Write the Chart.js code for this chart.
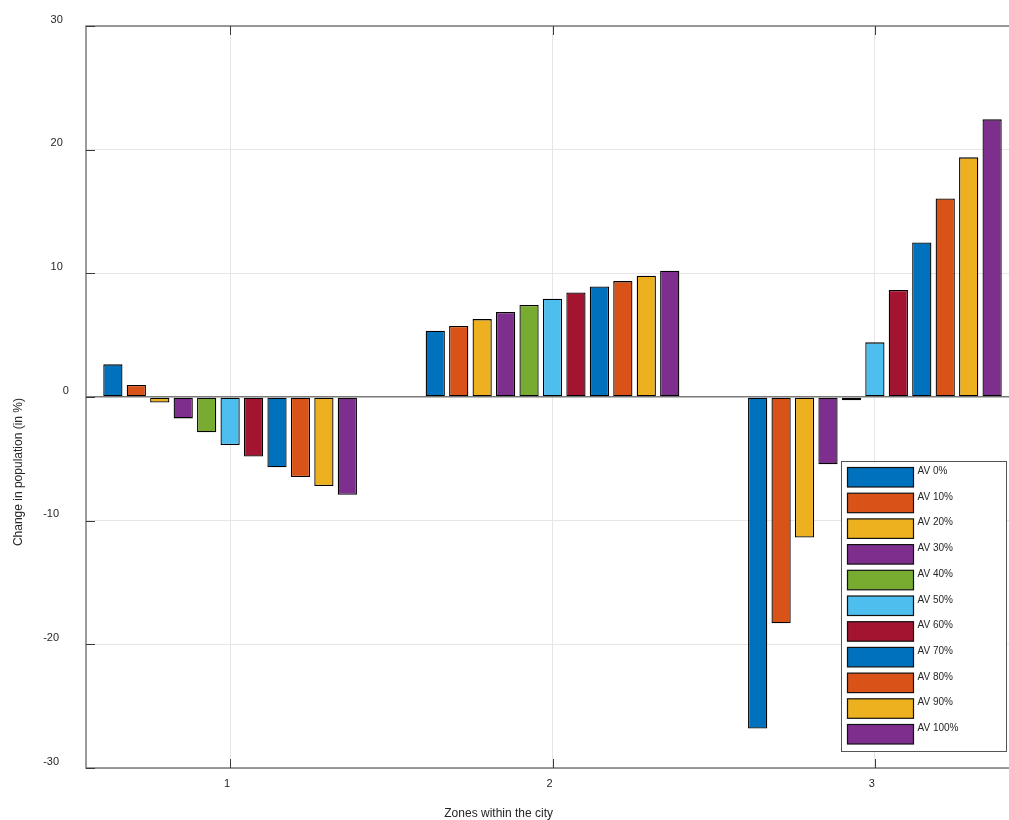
<!DOCTYPE html>
<html>
<head>
<meta charset="utf-8">
<script src="https://cdn.jsdelivr.net/npm/chart.js@4.4.1/dist/chart.umd.min.js"></script>
<style>
  html, body { margin: 0; padding: 0; overflow: hidden; background: #fff; }
  #wrap { position: absolute; left: 0; top: 0; width: 1040px; height: 820px; }
</style>
</head>
<body>
<div id="wrap"><canvas id="chart" width="1040" height="820"></canvas></div>
<script>
const zones = [1, 2, 3];
const yTicks = [-30, -20, -10, 0, 10, 20, 30];
const seriesLabels = ["AV 0%", "AV 10%", "AV 20%", "AV 30%", "AV 40%", "AV 50%",
  "AV 60%", "AV 70%", "AV 80%", "AV 90%", "AV 100%"];

const av0 = [2.64, 5.36, -26.8];
const av10 = [0.97, 5.74, -18.29];
const av20 = [-0.45, 6.3, -11.37];
const av30 = [-1.73, 6.87, -5.44];
const av40 = [-2.86, 7.44, -0.27];
const av50 = [-3.88, 7.95, 4.42];
const av60 = [-4.82, 8.46, 8.65];
const av70 = [-5.69, 8.94, 12.5];
const av80 = [-6.47, 9.37, 16.06];
const av90 = [-7.2, 9.8, 19.38];
const av100 = [-7.9, 10.21, 22.45];

const seriesValues = [av0, av10, av20, av30, av40, av50, av60, av70, av80, av90, av100];
const colors = ["#0072BD", "#D95319", "#EDB120", "#7E2F8E", "#77AC30", "#4DBEEE",
  "#A2142F", "#0072BD", "#D95319", "#EDB120", "#7E2F8E"];

const FONT = "'Liberation Sans', Arial, Helvetica, sans-serif";
const TEXT = "#262626";

Chart.defaults.font.family = FONT;
Chart.defaults.color = TEXT;

// axes box, inward ticks, y labels, axis titles and the legend, matlab style
const matlabAxes = {
  id: "matlabAxes",
  afterDatasetsDraw(chart) {
    const { ctx, chartArea: a, scales } = chart;
    const x = scales.x, y = scales.y;
    ctx.save();

    ctx.strokeStyle = "#7a7a7a";
    ctx.lineWidth = 1.5;
    ctx.strokeRect(a.left, a.top, a.right - a.left, a.bottom - a.top);

    const tl = 9;
    ctx.strokeStyle = "#3a3a3a";
    ctx.lineWidth = 1;
    ctx.beginPath();
    zones.forEach(v => {
      const px = Math.round(x.getPixelForValue(v)) + 0.5;
      ctx.moveTo(px, a.bottom); ctx.lineTo(px, a.bottom - tl);
      ctx.moveTo(px, a.top); ctx.lineTo(px, a.top + tl);
    });
    yTicks.forEach(v => {
      const py = Math.round(y.getPixelForValue(v)) + 0.5;
      ctx.moveTo(a.left, py); ctx.lineTo(a.left + tl, py);
      ctx.moveTo(a.right, py); ctx.lineTo(a.right - tl, py);
    });
    ctx.stroke();

    ctx.fillStyle = TEXT;
    ctx.font = "11px " + FONT;
    ctx.textAlign = "right";
    ctx.textBaseline = "middle";
    yTicks.forEach(v => {
      const s = String(v);
      const w = ctx.measureText(s).width;
      ctx.fillText(s, 75 - w, y.getPixelForValue(v) - 6.5);
    });

    ctx.font = "12px " + FONT;
    ctx.fillText("Zones within the city", 553, 814);
    ctx.save();
    ctx.translate(19, 398);
    ctx.rotate(-Math.PI / 2);
    ctx.textAlign = "right";
    ctx.fillText("Change in population (in %)", 0, 0);
    ctx.restore();

    // legend
    const L = { left: 841, top: 461, width: 165, height: 290 };
    ctx.fillStyle = "#fff";
    ctx.fillRect(L.left, L.top, L.width, L.height);
    ctx.strokeStyle = "#555";
    ctx.lineWidth = 1;
    ctx.strokeRect(L.left + 0.5, L.top + 0.5, L.width, L.height);
    ctx.font = "10px " + FONT;
    ctx.textAlign = "left";
    chart.data.datasets.forEach((ds, i) => {
      const top = 467.5 + i * 25.7;
      ctx.fillStyle = ds.backgroundColor;
      ctx.fillRect(847.5, top, 66, 19.5);
      ctx.strokeStyle = "#111";
      ctx.lineWidth = 1.2;
      ctx.strokeRect(847.5, top, 66, 19.5);
      ctx.fillStyle = TEXT;
      ctx.fillText(ds.label, 917.5, top + 19.5 / 2 - 6);
    });

    ctx.restore();
  }
};

new Chart(document.getElementById("chart"), {
  type: "bar",
  data: {
    datasets: seriesValues.map((vals, i) => ({
      label: seriesLabels[i],
      data: zones.map((z, j) => ({ x: z, y: vals[j] })),
      backgroundColor: colors[i],
      borderColor: "#000",
      borderWidth: 1.3,
      borderSkipped: false,
      categoryPercentage: 0.8,
      barPercentage: 0.82
    }))
  },
  options: {
    responsive: false,
    animation: false,
    devicePixelRatio: 1,
    layout: { padding: { top: 26, right: 21, left: 0, bottom: 0 } },
    plugins: {
      legend: { display: false },
      tooltip: { enabled: false }
    },
    scales: {
      x: {
        type: "linear",
        offset: false,
        min: 0.553,
        max: 3.447,
        afterBuildTicks: s => { s.ticks = zones.map(v => ({ value: v })); },
        afterFit: s => { s.height = 52; },
        grid: { offset: false, color: "#e6e6e6", lineWidth: 1, drawTicks: false },
        border: { display: false },
        ticks: {
          align: "end",
          padding: 9,
          font: { size: 11 },
          color: TEXT,
          callback: v => String(v)
        }
      },
      y: {
        min: -30,
        max: 30,
        afterBuildTicks: s => { s.ticks = yTicks.map(v => ({ value: v })); },
        afterFit: s => { s.width = 86; },
        grid: {
          color: c => (c.tick && c.tick.value === 0 ? "#7a7a7a" : "#e6e6e6"),
          lineWidth: c => (c.tick && c.tick.value === 0 ? 1.5 : 1),
          drawTicks: false
        },
        border: { display: false },
        ticks: { display: false }
      }
    }
  },
  plugins: [matlabAxes]
});
</script>
</body>
</html>
